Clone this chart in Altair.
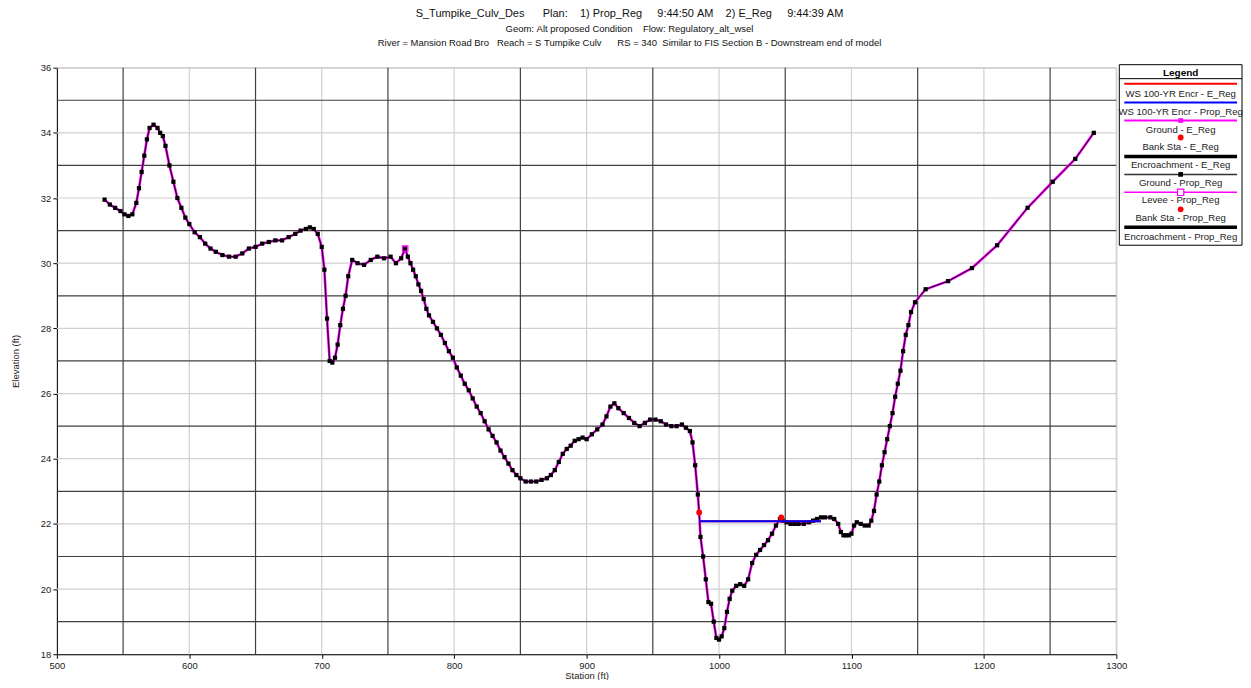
import altair as alt
import pandas as pd

# ---------------- data ----------------
stations = [536, 540, 544, 548, 551, 554, 557, 560, 562, 564, 566, 568, 570, 573, 576, 578, 580, 582,
            585, 588, 591, 594, 597, 600, 604, 608, 612, 616, 620, 625, 630, 635, 640, 645, 650, 655,
            660, 665, 670, 675, 680, 684, 688, 691, 694, 697, 700, 702, 704, 706, 708, 710, 712, 714,
            716, 718, 720, 723, 727, 732, 737, 742, 747, 752, 756, 760, 763, 765, 767, 769, 771, 773,
            775, 777, 779, 781, 784, 787, 790, 793, 796, 799, 802, 805, 808, 811, 814, 817, 820, 823,
            826, 829, 832, 835, 838, 841, 844, 847, 850, 854, 858, 862, 866, 870, 873, 876, 879, 882,
            885, 888, 891, 894, 897, 900, 904, 908, 912, 915, 918, 921, 924, 928, 932, 936, 940, 944,
            948, 952, 956, 960, 964, 968, 972, 975, 978, 980, 982, 984, 985, 986, 988, 990, 992, 994,
            996, 998, 1000, 1002, 1004, 1006, 1008, 1010, 1013, 1016, 1019, 1022, 1025, 1028, 1031,
            1034, 1037, 1040, 1043, 1046, 1048, 1051, 1054, 1057, 1060, 1064, 1068, 1071, 1074, 1077,
            1080, 1084, 1087, 1090, 1092, 1094, 1096, 1098, 1100, 1102, 1104, 1107, 1110, 1113, 1115,
            1117, 1119, 1121, 1123, 1125, 1127, 1129, 1131, 1133, 1135, 1137, 1139, 1141, 1143, 1145,
            1148, 1156, 1173, 1191, 1210, 1233, 1252, 1269, 1283]
elevations = [31.95, 31.8, 31.7, 31.6, 31.5, 31.45, 31.5, 31.85, 32.3, 32.8, 33.3, 33.8, 34.15, 34.25,
              34.15, 34.0, 33.9, 33.6, 33.0, 32.5, 32.0, 31.7, 31.4, 31.2, 30.95, 30.8, 30.6, 30.45,
              30.35, 30.25, 30.2, 30.2, 30.3, 30.45, 30.5, 30.6, 30.65, 30.7, 30.7, 30.8, 30.9, 31.0,
              31.05, 31.1, 31.05, 30.9, 30.5, 29.8, 28.3, 27.0, 26.95, 27.1, 27.5, 28.1, 28.6, 29.0,
              29.6, 30.1, 30.0, 29.95, 30.1, 30.2, 30.15, 30.2, 30.0, 30.15, 30.45, 30.2, 30.0, 29.8,
              29.6, 29.35, 29.15, 28.9, 28.6, 28.4, 28.2, 28.0, 27.8, 27.55, 27.3, 27.1, 26.8, 26.55,
              26.3, 26.1, 25.85, 25.6, 25.4, 25.15, 24.9, 24.7, 24.5, 24.25, 24.05, 23.85, 23.65,
              23.5, 23.4, 23.3, 23.3, 23.3, 23.35, 23.4, 23.5, 23.65, 23.9, 24.15, 24.3, 24.4, 24.55,
              24.6, 24.65, 24.6, 24.75, 24.9, 25.05, 25.3, 25.6, 25.7, 25.55, 25.4, 25.25, 25.1, 25.0,
              25.1, 25.2, 25.2, 25.15, 25.05, 25.0, 25.0, 25.05, 24.95, 24.85, 24.5, 23.8, 22.9,
              22.35, 21.6, 21.0, 20.3, 19.6, 19.55, 19.0, 18.5, 18.45, 18.55, 18.8, 19.3, 19.7, 19.95,
              20.1, 20.15, 20.1, 20.3, 20.8, 21.05, 21.2, 21.35, 21.5, 21.7, 21.95, 22.15, 22.1, 22.05,
              22.0, 22.0, 22.0, 22.0, 22.05, 22.1, 22.15, 22.2, 22.2, 22.2, 22.15, 22.0, 21.75, 21.65,
              21.65, 21.65, 21.7, 21.95, 22.05, 22.0, 21.95, 21.95, 22.1, 22.4, 22.9, 23.3, 23.8, 24.2,
              24.6, 25.0, 25.4, 25.9, 26.3, 26.7, 27.3, 27.8, 28.1, 28.5, 28.8, 29.2, 29.45, 29.85,
              30.55, 31.7, 32.5, 33.2, 34.0]

bank_sta = [985, 1047]
bank_elev = [22.35, 22.2]
ws_sta = [985, 1077]
ws_elev = [22.08, 22.08]
levee_sta = [763]
levee_elev = [30.45]

x_major_grid = [550, 650, 750, 850, 950, 1050, 1150, 1250]
x_minor_grid = [600, 700, 800, 900, 1000, 1100, 1200, 1300]
y_major_grid = [19, 21, 23, 25, 27, 29, 31, 33, 35]
y_minor_grid = [20, 22, 24, 26, 28, 30, 32, 34, 36]
x_ticks = [500, 600, 700, 800, 900, 1000, 1100, 1200, 1300]
y_ticks = [18, 20, 22, 24, 26, 28, 30, 32, 34, 36]

NB = "\u00a0"
title_lines = [
    "S_Tumpike_Culv_Des      Plan:    1) Prop_Reg     9:44:50 AM    2) E_Reg     9:44:39 AM".replace(" ", NB),
    "Geom: Alt proposed Condition    Flow: Regulatory_alt_wsel".replace(" ", NB),
    "River = Mansion Road Bro   Reach = S Tumpike Culv      RS = 340  Similar to FIS Section B - Downstream end of model".replace(" ", NB),
]

legend_labels = ["WS 100-YR Encr - E_Reg", "WS 100-YR Encr - Prop_Reg", "Ground - E_Reg",
                 "Bank Sta - E_Reg", "Encroachment - E_Reg", "Ground - Prop_Reg",
                 "Levee - Prop_Reg", "Bank Sta - Prop_Reg", "Encroachment - Prop_Reg"]

FONT = "Liberation Sans"
W, H = 1062, 588
XD = [500, 1300]
YD = [18, 36]

ground = pd.DataFrame({"station": stations, "elev": elevations})

xs = alt.Scale(domain=XD, nice=False, zero=False)
ys = alt.Scale(domain=YD, nice=False, zero=False)

XAX = alt.Axis(values=x_ticks, grid=False, format="d", labelFont=FONT, labelFontSize=9.5,
               labelColor="#222", titleFont=FONT, titleFontSize=9.5, titleFontWeight="normal",
               titleColor="#222", tickSize=4, tickColor="#000", domainColor="#000",
               labelPadding=2, titlePadding=1, labelFlush=False)
YAX = alt.Axis(values=y_ticks, grid=False, format="d", labelFont=FONT, labelFontSize=9.5,
               labelColor="#222", titleFont=FONT, titleFontSize=9.5, titleFontWeight="normal",
               titleColor="#222", tickSize=4, tickColor="#000", domainColor="#000",
               labelPadding=2, titlePadding=20, labelFlush=False)


def X(field):
    return alt.X(field, scale=xs, axis=XAX, title="Station (ft)")


def Y(field):
    return alt.Y(field, scale=ys, axis=YAX, title="Elevation (ft)")


# ---- grid ----
def vgrid(vals, color, width):
    return alt.Chart(pd.DataFrame({"v": vals})).mark_rule(color=color, strokeWidth=width).encode(x=X("v:Q"))


def hgrid(vals, color, width):
    return alt.Chart(pd.DataFrame({"v": vals})).mark_rule(color=color, strokeWidth=width).encode(y=Y("v:Q"))


grid = alt.layer(
    vgrid(x_minor_grid, "#d0d0d0", 1.2),
    hgrid(y_minor_grid, "#d0d0d0", 1.2),
    vgrid(x_major_grid, "#404040", 1.2),
    hgrid(y_major_grid, "#404040", 1.2),
)

ground_e = alt.Chart(ground).mark_line(color="#ff00ff", strokeWidth=2.6).encode(
    x=X("station:Q"), y=Y("elev:Q"))
ground_p = alt.Chart(ground).mark_line(color="#000000", strokeWidth=1).encode(
    x=X("station:Q"), y=Y("elev:Q"))
ground_pts = alt.Chart(ground).mark_point(shape="square", filled=True, color="#000", size=18, opacity=1).encode(
    x=X("station:Q"), y=Y("elev:Q"))

ws_df = pd.DataFrame({"station": ws_sta, "elev": ws_elev})
ws_e = alt.Chart(ws_df).mark_line(color="#ff0000", strokeWidth=2).encode(x=X("station:Q"), y=Y("elev:Q"))
ws_p = alt.Chart(ws_df).mark_line(color="#0000ff", strokeWidth=2).encode(x=X("station:Q"), y=Y("elev:Q"))

bank_df = pd.DataFrame({"station": bank_sta, "elev": bank_elev})
banks = alt.Chart(bank_df).mark_point(shape="circle", filled=True, color="#ff0000", size=34, opacity=1).encode(
    x=X("station:Q"), y=Y("elev:Q"))

levee_df = pd.DataFrame({"station": levee_sta, "elev": levee_elev})
levee = alt.Chart(levee_df).mark_point(shape="square", filled=False, color="#ff00ff", size=30,
                                        strokeWidth=1.2, opacity=1).encode(x=X("station:Q"), y=Y("elev:Q"))

# ---- title (pixel layout relative to plot origin) ----
title_df = pd.DataFrame({"t": title_lines, "py": [-54, -39, -25], "fs": [11, 9.5, 9.5]})
title = alt.Chart(title_df).mark_text(font=FONT, color="#111", align="center", baseline="middle").encode(
    x=alt.value(574), y=alt.Y("py:Q", scale=None), text="t:N",
    size=alt.Size("fs:Q", scale=None, legend=None))

# ---- legend box (pixel layout) ----
LX0, LX1 = 1065, 1188
LC = (LX0 + LX1) / 2
row_text_y = [26, 44, 62, 80, 98, 116, 133, 151, 170]
sym_y = [16, 35, 53, 70, 89, 107, 125, 142, 160]

box = alt.Chart(pd.DataFrame({"a": [0]})).mark_rect(fill="white", stroke="#000", strokeWidth=1).encode(
    x=alt.value(LX0), x2=alt.value(LX1), y=alt.value(-3), y2=alt.value(178))
header = alt.Chart(pd.DataFrame({"t": ["Legend"]})).mark_text(
    font=FONT, fontSize=10, fontWeight="bold", color="#000").encode(
    x=alt.value(LC), y=alt.value(5), text="t:N")
header_line = alt.Chart(pd.DataFrame({"a": [0]})).mark_rule(color="#000", strokeWidth=1).encode(
    x=alt.value(LX0), x2=alt.value(LX1), y=alt.value(11))

leg_text = alt.Chart(pd.DataFrame({"t": legend_labels, "py": row_text_y})).mark_text(
    font=FONT, fontSize=9.6, color="#222", baseline="middle").encode(
    x=alt.value(LC), y=alt.Y("py:Q", scale=None), text="t:N")

line_rows = pd.DataFrame({
    "py": [sym_y[0], sym_y[1], sym_y[2], sym_y[4], sym_y[5], sym_y[6], sym_y[8]],
    "c": ["#ff0000", "#0000ff", "#ff00ff", "#000000", "#333333", "#ff00ff", "#000000"],
    "w": [2, 2, 2, 3.5, 1.5, 1.5, 3.5],
})
leg_lines = alt.Chart(line_rows).mark_rule().encode(
    x=alt.value(LX0 + 5), x2=alt.value(LX1 - 5), y=alt.Y("py:Q", scale=None),
    color=alt.Color("c:N", scale=None), strokeWidth=alt.StrokeWidth("w:Q", scale=None, legend=None))

leg_sq = alt.Chart(pd.DataFrame({"py": [sym_y[2], sym_y[5]], "c": ["#ff00ff", "#000000"]})).mark_point(
    shape="square", filled=True, size=22, opacity=1).encode(
    x=alt.value(LC), y=alt.Y("py:Q", scale=None), color=alt.Color("c:N", scale=None))
leg_open = alt.Chart(pd.DataFrame({"py": [sym_y[6]]})).mark_point(
    shape="square", filled=True, fill="white", stroke="#ff00ff", strokeWidth=1.2, size=40, opacity=1).encode(
    x=alt.value(LC), y=alt.Y("py:Q", scale=None))
leg_dots = alt.Chart(pd.DataFrame({"py": [sym_y[3], sym_y[7]]})).mark_point(
    shape="circle", filled=True, color="#ff0000", size=34, opacity=1).encode(
    x=alt.value(LC), y=alt.Y("py:Q", scale=None))

chart = alt.layer(
    grid, ground_e, ground_p, ground_pts, ws_e, ws_p, banks, levee,
    title, box, header, header_line, leg_lines, leg_sq, leg_open, leg_dots, leg_text,
).properties(
    width=W, height=H,
    autosize=alt.AutoSizeParams(type="none"),
    padding={"left": 49, "top": 59, "right": 127, "bottom": 25},
).configure_view(stroke="#c8c8c8", strokeWidth=1)

chart.save("out.html", embed_options={"renderer": "svg", "actions": False})
